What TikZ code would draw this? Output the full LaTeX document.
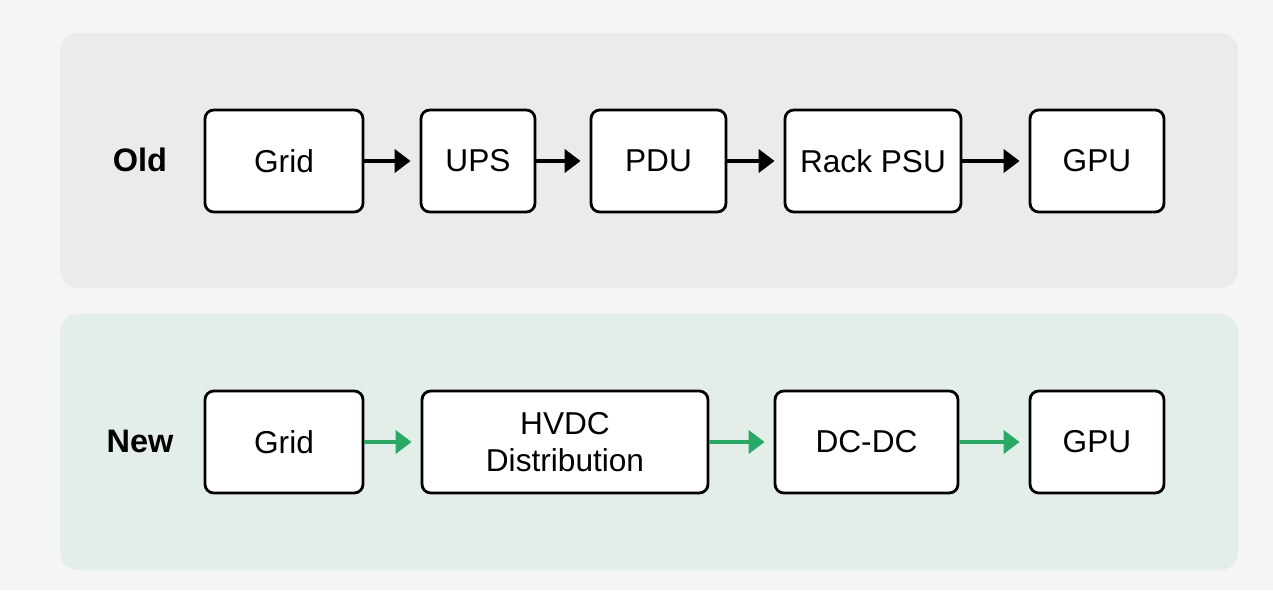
\documentclass[tikz,border=0pt]{standalone}
\usepackage{fontspec}
\setmainfont{Liberation Sans}
\usetikzlibrary{arrows.meta}
\definecolor{pagebg}{HTML}{F5F5F4}
\definecolor{oldbg}{HTML}{EBEBEB}
\definecolor{newbg}{HTML}{E4EEE8}
\definecolor{flowgreen}{HTML}{2AA866}
\tikzset{
  stage/.style={draw, line width=1.6pt, rounded corners=5pt, fill=white, minimum height=2.04cm,
    align=center, font=\fontsize{18}{21}\selectfont, inner sep=2pt},
  flow/.style={line width=2.3pt, -{Triangle[length=0.32cm,width=0.46cm]}, shorten >=0.18cm},
  rowlabel/.style={font=\fontsize{18.5}{22}\selectfont\bfseries},
}
\begin{document}
\begin{tikzpicture}
    \useasboundingbox (0,0) rectangle (25.46,11.8);
    \fill[pagebg] (0,0) rectangle (25.46,11.8);

    % Panels
    \fill[oldbg, rounded corners=10pt] (1.2,6.04) rectangle (24.76,11.14);
    \fill[newbg, rounded corners=10pt] (1.2,0.4) rectangle (24.76,5.52);

    % Old chain
    \node[rowlabel] (oldlabel) at (2.8,8.6) {Old};
    \node[stage, minimum width=3.16cm] (grid1) at (5.68,8.58) {Grid};
    \node[stage, minimum width=2.28cm] (ups) at (9.56,8.58) {UPS};
    \node[stage, minimum width=2.7cm] (pdu) at (13.17,8.58) {PDU};
    \node[stage, minimum width=3.52cm] (rackpsu) at (17.46,8.58) {Rack PSU};
    \node[stage, minimum width=2.68cm] (gpu1) at (21.94,8.58) {GPU};
    \draw[flow] (grid1) -- (ups);
    \draw[flow] (ups) -- (pdu);
    \draw[flow] (pdu) -- (rackpsu);
    \draw[flow] (rackpsu) -- (gpu1);

    % New chain
    \node[rowlabel] (newlabel) at (2.8,2.98) {New};
    \node[stage, minimum width=3.16cm] (grid2) at (5.68,2.96) {Grid};
    \node[stage, minimum width=5.72cm] (hvdc) at (11.3,2.96) {HVDC\\Distribution};
    \node[stage, minimum width=3.66cm] (dcdc) at (17.33,2.96) {DC-DC};
    \node[stage, minimum width=2.68cm] (gpu2) at (21.94,2.96) {GPU};
    \draw[flow, flowgreen] (grid2) -- (hvdc);
    \draw[flow, flowgreen] (hvdc) -- (dcdc);
    \draw[flow, flowgreen] (dcdc) -- (gpu2);
\end{tikzpicture}
\end{document}
